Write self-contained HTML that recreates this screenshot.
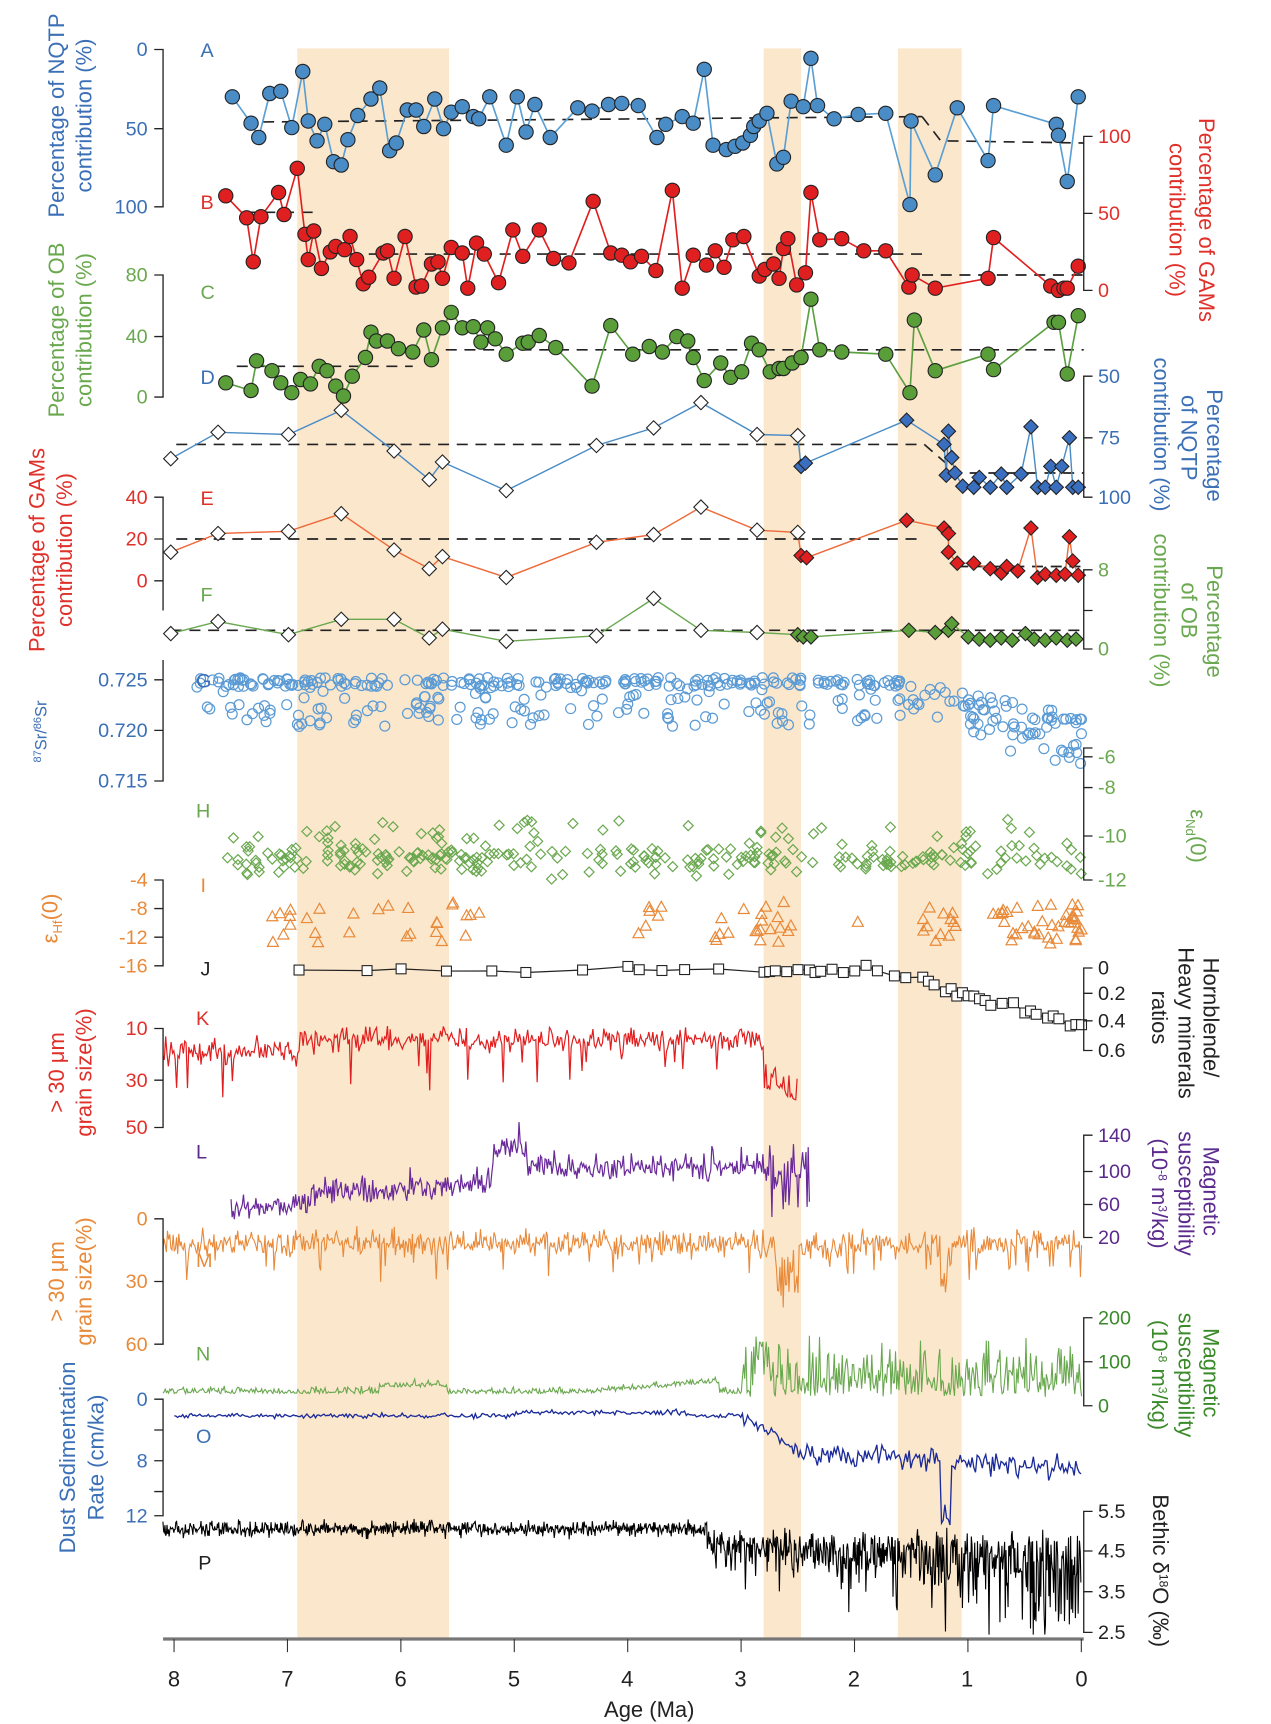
<!DOCTYPE html>
<html><head><meta charset="utf-8"><style>
html,body{margin:0;padding:0;background:#fff}
svg{display:block}
text{font-family:"Liberation Sans",Arial,sans-serif}
</style></head><body>
<svg id="s" width="1271" height="1724" viewBox="0 0 1155 1567.3" xmlns="http://www.w3.org/2000/svg">
<rect x="0" y="0" width="1155" height="1568" fill="#fff"/>
<g fill="#fbe7cc">
<rect x="270" y="44" width="138" height="1446"/>
<rect x="694" y="44" width="34" height="1446"/>
<rect x="816" y="44" width="58" height="1446"/>
</g>
<g id="data"></g>
<g stroke="#222" stroke-width="1.2" fill="none">
<path d="M140,45H148V188H140M148,117H140"/>
<path d="M993,124H985V264H993M985,194H993"/>
<path d="M140,250H148V361H140M148,306H140"/>
<path d="M993,342H985V452H993M985,398H993"/>
<path d="M140,452H148V555M148,490H140M148,528H140"/>
<path d="M993,518H985V590H993M985,555H993"/>
<path d="M148,600V710H140M148,618H140M148,664H140"/>
<path d="M993,680H985V800H993M985,688H993M985,716H993M985,760H993"/>
<path d="M140,800H148V878H140M148,826H140M148,852H140"/>
<path d="M993,880H985V955H993M985,903H993M985,928H993"/>
<path d="M140,935H148V1025H140M148,982H140"/>
<path d="M993,1032H985V1125H993M985,1065H993M985,1095H993"/>
<path d="M140,1108H148V1222H140M148,1165H140"/>
<path d="M993,1198H985V1278H993M985,1238H993"/>
<path d="M140,1272H148V1378H140M148,1300H140M148,1328H140M148,1356H140"/>
<path d="M993,1374H985V1484H993M985,1410H993M985,1447H993"/>
</g>
<path d="M148,1490H985" stroke="#777" stroke-width="3"/>
<g id="xt" stroke="#333" stroke-width="1"></g>
<g font-size="20" text-anchor="middle" fill="#222">
<text x="158" y="1533">8</text><text x="261" y="1533">7</text><text x="364" y="1533">6</text><text x="467" y="1533">5</text><text x="570" y="1533">4</text><text x="673" y="1533">3</text><text x="776" y="1533">2</text><text x="879" y="1533">1</text><text x="983" y="1533">0</text>
<text x="590" y="1561" font-size="20">Age (Ma)</text>
</g>
<g font-size="18" text-anchor="end">
<g fill="#3b6fb6"><text x="134" y="51">0</text><text x="134" y="123">50</text><text x="134" y="194">100</text></g>
<g fill="#6aa84f"><text x="134" y="256">80</text><text x="134" y="312">40</text><text x="134" y="367">0</text></g>
<g fill="#e0302a"><text x="134" y="458">40</text><text x="134" y="496">20</text><text x="134" y="534">0</text></g>
<g fill="#3b6fb6"><text x="134" y="624">0.725</text><text x="134" y="670">0.720</text><text x="134" y="716">0.715</text></g>
<g fill="#e88a3a"><text x="134" y="806">-4</text><text x="134" y="832">-8</text><text x="134" y="858">-12</text><text x="134" y="884">-16</text></g>
<g fill="#e0302a"><text x="134" y="941">10</text><text x="134" y="988">30</text><text x="134" y="1031">50</text></g>
<g fill="#e88a3a"><text x="134" y="1114">0</text><text x="134" y="1171">30</text><text x="134" y="1228">60</text></g>
<g fill="#3b6fb6"><text x="134" y="1278">0</text><text x="134" y="1334">8</text><text x="134" y="1384">12</text></g>
</g>
<g font-size="18" text-anchor="start">
<g fill="#e0302a"><text x="998" y="130">100</text><text x="998" y="200">50</text><text x="998" y="270">0</text></g>
<g fill="#3b6fb6"><text x="998" y="348">50</text><text x="998" y="404">75</text><text x="998" y="458">100</text></g>
<g fill="#6aa84f"><text x="998" y="524">8</text><text x="998" y="596">0</text></g>
<g fill="#6aa84f"><text x="998" y="694">-6</text><text x="998" y="722">-8</text><text x="998" y="766">-10</text><text x="998" y="806">-12</text></g>
<g fill="#222"><text x="998" y="886">0</text><text x="998" y="909">0.2</text><text x="998" y="934">0.4</text><text x="998" y="961">0.6</text></g>
<g fill="#5b2a8c"><text x="998" y="1038">140</text><text x="998" y="1071">100</text><text x="998" y="1101">60</text><text x="998" y="1131">20</text></g>
<g fill="#3a8a2a"><text x="998" y="1204">200</text><text x="998" y="1244">100</text><text x="998" y="1284">0</text></g>
<g fill="#222"><text x="998" y="1380">5.5</text><text x="998" y="1416">4.5</text><text x="998" y="1453">3.5</text><text x="998" y="1490">2.5</text></g>
</g>
<g font-size="18">
<text x="182" y="52" fill="#3b6fb6">A</text><text x="182" y="190" fill="#e0302a">B</text><text x="182" y="272" fill="#6aa84f">C</text>
<text x="182" y="349" fill="#3b6fb6">D</text><text x="182" y="459" fill="#e0302a">E</text><text x="182" y="547" fill="#6aa84f">F</text>
<text x="178" y="625" fill="#3b6fb6">G</text><text x="178" y="743" fill="#6aa84f">H</text><text x="182" y="811" fill="#e88a3a">I</text>
<text x="182" y="887" fill="#222">J</text><text x="178" y="932" fill="#e0302a">K</text><text x="178" y="1053" fill="#5b2a8c">L</text>
<text x="178" y="1152" fill="#e88a3a">M</text><text x="178" y="1237" fill="#6aa84f">N</text><text x="178" y="1312" fill="#3b6fb6">O</text>
<text x="180" y="1427" fill="#222">P</text>
</g>
<g font-size="20" text-anchor="middle">
<text transform="translate(58,105) rotate(-90)" fill="#3b6fb6">Percentage of NQTP</text>
<text transform="translate(83,105) rotate(-90)" fill="#3b6fb6">contribution (%)</text>
<text transform="translate(58,300) rotate(-90)" fill="#6aa84f">Percentage of OB</text>
<text transform="translate(83,300) rotate(-90)" fill="#6aa84f">contribution (%)</text>
<text transform="translate(40,500) rotate(-90)" fill="#e0302a">Percentage of GAMs</text>
<text transform="translate(65,500) rotate(-90)" fill="#e0302a">contribution (%)</text>
<text transform="translate(42,665) rotate(-90)" fill="#3b6fb6" font-size="15"><tspan font-size="10" dy="-5">87</tspan><tspan dy="5">Sr/</tspan><tspan font-size="10" dy="-5">86</tspan><tspan dy="5">Sr</tspan></text>
<text transform="translate(52,835) rotate(-90)" fill="#e88a3a">ε<tspan font-size="12" dy="4">Hf</tspan><tspan dy="-4">(0)</tspan></text>
<text transform="translate(58,975) rotate(-90)" fill="#e0302a">&gt; 30 μm</text>
<text transform="translate(83,975) rotate(-90)" fill="#e0302a">grain size(%)</text>
<text transform="translate(58,1165) rotate(-90)" fill="#e88a3a">&gt; 30 μm</text>
<text transform="translate(83,1165) rotate(-90)" fill="#e88a3a">grain size(%)</text>
<text transform="translate(68,1325) rotate(-90)" fill="#3b6fb6">Dust Sedimentation</text>
<text transform="translate(94,1325) rotate(-90)" fill="#3b6fb6">Rate (cm/ka)</text>
</g>
<g font-size="20" text-anchor="middle">
<text transform="translate(1090,200) rotate(90)" fill="#e0302a">Percentage of GAMs</text>
<text transform="translate(1063,200) rotate(90)" fill="#e0302a">contribution (%)</text>
<text transform="translate(1097,405) rotate(90)" fill="#3b6fb6">Percentage</text>
<text transform="translate(1074,398) rotate(90)" fill="#3b6fb6">of NQTP</text>
<text transform="translate(1049,395) rotate(90)" fill="#3b6fb6">contribution (%)</text>
<text transform="translate(1097,565) rotate(90)" fill="#6aa84f">Percentage</text>
<text transform="translate(1074,555) rotate(90)" fill="#6aa84f">of OB</text>
<text transform="translate(1049,555) rotate(90)" fill="#6aa84f">contribution (%)</text>
<text transform="translate(1082,760) rotate(90)" fill="#6aa84f">ε<tspan font-size="12" dy="4">Nd</tspan><tspan dy="-4">(0)</tspan></text>
<text transform="translate(1094,925) rotate(90)" fill="#222">Hornblende/</text>
<text transform="translate(1071,930) rotate(90)" fill="#222">Heavy minerals</text>
<text transform="translate(1047,925) rotate(90)" fill="#222">ratios</text>
<text transform="translate(1094,1083) rotate(90)" fill="#5b2a8c">Magnetic</text>
<text transform="translate(1071,1085) rotate(90)" fill="#5b2a8c">susceptibility</text>
<text transform="translate(1047,1085) rotate(90)" fill="#5b2a8c">(10<tspan font-size="11" dy="-6">-8</tspan><tspan dy="6"> m</tspan><tspan font-size="11" dy="-6">3</tspan><tspan dy="6">/kg)</tspan></text>
<text transform="translate(1094,1248) rotate(90)" fill="#3a8a2a">Magnetic</text>
<text transform="translate(1071,1250) rotate(90)" fill="#3a8a2a">susceptibility</text>
<text transform="translate(1047,1250) rotate(90)" fill="#3a8a2a">(10<tspan font-size="11" dy="-6">-8</tspan><tspan dy="6"> m</tspan><tspan font-size="11" dy="-6">3</tspan><tspan dy="6">/kg)</tspan></text>
<text transform="translate(1048,1428) rotate(90)" fill="#222">Bethic δ<tspan font-size="11" dy="-6">18</tspan><tspan dy="6">O (‰)</tspan></text>
</g>
</svg>
<script>
(function(){
var NS="http://www.w3.org/2000/svg",D=document.getElementById("data");
function el(t,a){var e=document.createElementNS(NS,t);for(var k in a)e.setAttribute(k,a[k]);D.appendChild(e);return e;}
var xt=document.getElementById("xt");
for(var i=0;i<9;i++){var x=158+103.1*i;var l=document.createElementNS(NS,"line");l.setAttribute("x1",x);l.setAttribute("x2",x);l.setAttribute("y1",1490);l.setAttribute("y2",1502);xt.appendChild(l);}
var seed=7;function r(){seed=(seed*16807)%2147483647;return seed/2147483647;}
function g(){return (r()+r()+r()-1.5)*1.4;}
function X(a){return 983-103.1*a;}
function pts(p){return p.map(function(q){return q[0].toFixed(1)+","+q[1].toFixed(1)}).join(" ");}
function line(p,c,w,dash){el("polyline",{points:pts(p),fill:"none",stroke:c,"stroke-width":w||1.3,"stroke-dasharray":dash||""});}
function dash(p){line(p,"#222",1.5,"10,7");}
function circ(p,f){p.forEach(function(q){el("circle",{cx:q[0],cy:q[1],r:6.5,fill:f,stroke:"#222","stroke-width":1});});}
function diam(p,f,s){p.forEach(function(q){var x=q[0],y=q[1],d=6.5;el("polygon",{points:(x)+","+(y-d)+" "+(x+d)+","+y+" "+x+","+(y+d)+" "+(x-d)+","+y,fill:f,stroke:s||"#222","stroke-width":1});});}
function byx(p){return p.slice().sort(function(a,b){return a[0]-b[0]});}
var A=[[211,88],[228,112],[235,125],[245,85],[255,83],[265,116],[275,65],[280,110],[288,128],[295,113],[303,147],[310,150],[316,127],[325,105],[337,90],[345,80],[354,137],[360,130],[370,100],[378,100],[385,115],[395,90],[403,117],[410,102],[420,97],[430,106],[435,108],[445,88],[460,132],[470,88],[478,120],[486,95],[500,125],[525,98],[538,101],[553,95],[565,94],[580,96],[597,125],[605,113],[620,106],[630,112],[640,63],[648,132],[660,136],[668,133],[675,130],[682,123],[685,115],[690,110],[697,103],[706,149],[712,143],[719,92],[730,97],[737,53],[743,96],[758,108],[780,104],[805,103],[827,186],[828,110],[850,159],[870,98],[898,146],[903,96],[960,113],[962,123],[970,165],[980,88]];
dash([[222,111],[838,106]]);dash([[838,106],[855,128],[985,130]]);
line(A,"#5a9fd4",1.5);circ(A,"#4a8cc6");
var B=[[205,178],[224,198],[230,238],[237,197],[253,175],[258,195],[270,153],[277,213],[280,236],[285,210],[292,244],[300,229],[305,224],[313,227],[318,215],[324,236],[330,258],[335,252],[348,230],[352,228],[358,253],[368,215],[378,261],[383,260],[392,240],[398,238],[402,253],[410,225],[420,230],[425,262],[433,221],[440,231],[453,257],[466,209],[475,233],[490,209],[503,235],[517,239],[539,183],[555,230],[565,232],[573,238],[583,233],[596,246],[611,173],[620,262],[630,232],[642,241],[650,228],[658,243],[666,218],[676,215],[690,251],[695,245],[703,240],[708,253],[712,226],[716,217],[724,259],[732,248],[737,175],[745,218],[765,217],[785,228],[805,228],[826,261],[829,250],[850,262],[898,253],[903,216],[955,260],[962,264],[967,262],[970,262],[980,242]];
dash([[223,193],[288,193]]);dash([[318,231],[838,231]]);dash([[838,250],[985,250]]);
line(B,"#e02020",1.5);circ(B,"#e02020");
var C=[[205,348],[228,355],[233,328],[247,337],[255,348],[265,357],[273,345],[282,349],[290,333],[297,337],[305,351],[312,360],[320,342],[332,325],[337,302],[342,310],[352,310],[362,317],[375,320],[385,300],[392,327],[402,298],[410,284],[420,298],[430,297],[437,311],[443,298],[450,308],[460,322],[475,312],[480,311],[490,305],[505,316],[538,351],[555,296],[575,322],[590,315],[602,320],[615,306],[625,310],[630,325],[640,346],[655,330],[664,343],[674,338],[683,312],[690,318],[700,338],[708,335],[712,335],[720,330],[728,325],[737,272],[745,318],[765,320],[805,322],[827,357],[831,291],[850,337],[898,322],[903,336],[958,293],[962,293],[970,340],[980,287]];
dash([[215,333],[375,333]]);dash([[405,318],[985,318]]);
line(C,"#5aa040",1.5);circ(C,"#5a9e3a");
var Dw=[[155,417],[198,393],[262,395],[310,373],[358,410],[390,436],[402,420],[460,446],[542,405],[594,389],[637,366],[688,395],[725,396]];
var Df=[[728,424],[732,421],[824,382],[858,404],[862,392],[865,416],[860,432],[868,430],[875,442],[885,443],[890,434],[900,443],[910,431],[915,443],[928,431],[937,388],[943,443],[950,443],[955,424],[960,443],[965,424],[972,398],[975,443],[980,443]];
dash([[160,404],[840,404],[870,430],[985,430]]);
line(byx(Dw.concat(Df)),"#4a8cc6",1.3);diam(Dw,"#fff");diam(Df,"#3a6fc0");
var Ew=[[155,502],[198,485],[262,483],[310,467],[358,500],[390,517],[402,506],[460,525],[542,493],[594,486],[637,461],[688,482],[725,484]];
var Ef=[[728,505],[733,507],[824,473],[858,480],[862,485],[862,502],[870,512],[885,512],[900,517],[910,521],[915,515],[925,519],[937,480],[943,525],[950,522],[960,523],[968,522],[972,488],[975,510],[980,523]];
dash([[160,490],[840,490]]);dash([[870,515],[985,515]]);
line(byx(Ew.concat(Ef)),"#ee6a3a",1.3);diam(Ew,"#fff");diam(Ef,"#e02020");
var Fw=[[155,576],[198,565],[262,577],[310,563],[358,563],[390,580],[402,572],[460,583],[542,578],[594,544],[637,573],[688,575]];
var Ff=[[725,577],[730,579],[737,579],[826,573],[850,575],[862,573],[865,567],[880,579],[890,581],[900,582],[910,580],[920,582],[932,576],[940,581],[950,582],[960,580],[970,582],[978,581]];
dash([[155,573],[985,573]]);
line(byx(Fw.concat(Ff)),"#6aa84f",1.3);diam(Fw,"#fff");diam(Ff,"#5a9e3a");
for(var i=0;i<420;i++){var a=r()*7.8;var x=X(a);var base=616+(a<1.6?(1.6-a)*22:0);var y;
 if(a<1.6){y=base+Math.abs(g())*25;}else{var u=r();y=u<0.55?base+r()*8:base+r()*45;}
 if(y>712)y=712-r()*10;el("circle",{cx:x,cy:y,r:4.5,fill:"none",stroke:"#5b9bd5","stroke-width":1.1});}
for(var i=0;i<300;i++){var a=Math.pow(r(),0.8)*7.6;var x=X(a);var y=780+g()*10;if(r()<0.12)y=745+r()*20;var d=4.5;el("polygon",{points:x+","+(y-d)+" "+(x+d)+","+y+" "+x+","+(y+d)+" "+(x-d)+","+y,fill:"none",stroke:"#6aa84f","stroke-width":1.1});}
var ranges=[[7.2,5.9,18],[5.7,5.3,10],[4.0,3.7,6],[3.3,2.5,20],[2.0,1.9,1],[1.45,1.1,12],[0.8,0,40]];
ranges.forEach(function(rg){for(var k=0;k<rg[2];k++){var a=rg[1]+r()*(rg[0]-rg[1]);var x=X(a);var y=820+r()*38;el("polygon",{points:x+","+(y-5)+" "+(x+5)+","+(y+4)+" "+(x-5)+","+(y+4),fill:"none",stroke:"#e88a3a","stroke-width":1.1});}});
var J=[];[6.9,6.3,6.0,5.6,5.2,4.9,4.4,4.0,3.9,3.7,3.5,3.2,2.8,2.75,2.7,2.6,2.5,2.4,2.35,2.3,2.2,2.1,2.0,1.9,1.8,1.65,1.55,1.4,1.35,1.3,1.2,1.15,1.1,1.05,1.0,0.95,0.9,0.85,0.8,0.7,0.6,0.5,0.45,0.4,0.3,0.25,0.2,0.1,0.05,0.0].forEach(function(a){var y=881+(a<1.8?(1.8-a)*30:0)+g()*3;if(a>2.2&&a<3)y+=3;J.push([X(a),y]);});
J=byx(J);line(J,"#222",1.1);J.forEach(function(q){el("rect",{x:q[0]-4.5,y:q[1]-4.5,width:9,height:9,fill:"#fff",stroke:"#222","stroke-width":1});});
var K=[];for(var a=8.1;a>=2.5;a-=0.012){var b=a>6.9?955:945;var y=b+g()*8;if(r()<0.05)y+=r()*40;if(a<2.8)y=980+g()*12+(2.8-a)*40;K.push([X(a),y]);}line(K,"#e02020",1.1);
var L=[];for(var a=7.5;a>=2.4;a-=0.01){var b;if(a>6.8)b=1095;else if(a>5.2)b=1085-(6.8-a)*5;else if(a>4.9)b=1045;else if(a>3.0)b=1062;else b=1060;var y=b+g()*8;if(r()<0.03)y-=r()*25;if(a<2.8)y=1070+g()*25;L.push([X(a),y]);}line(L,"#6a2a9a",1.1);
var M=[];for(var a=8.1;a>=0;a-=0.01){var y=1130+g()*8;if(r()<0.06)y+=r()*30;if(a<3&&r()<0.1)y+=r()*30;if((a<2.7&&a>2.5)||(a<1.25&&a>1.15))y+=r()*45;M.push([X(a),y]);}line(M,"#e88a3a",1);
var N=[];for(var a=8.1;a>=0;a-=0.01){var y;if(a>3.0)y=1267-Math.abs(g())*4-(a<6.2&&a>5.6?6:0)-(a<4.4&&a>3.2?(4.4-a)*8:0);else y=1270-Math.abs(g())*30-(r()<0.08?r()*30:0);if(a<2.9&&a>2.75)y-=20;N.push([X(a),y]);}line(N,"#6aa84f",1);
var O=[];for(var a=8.0;a>=0;a-=0.015){var y;if(a>3)y=1287-(a<5&&a>3.5?3:0)+g()*1.5;else if(a>2.5)y=1288+(3-a)*60+g()*4;else y=1320+g()*7+(2.5-a)*6;if(a<1.25&&a>1.15)y=1360+r()*30;O.push([X(a),y]);}line(O,"#1a2a9a",1.2);
var P=[];for(var a=8.1;a>=0;a-=0.006){var y;if(a>3.3)y=1390+g()*5;else{var sp=15+(3.3-a)*14;y=1395+Math.abs(g())*sp+g()*5;if(r()<0.06)y+=r()*30;if(y>1486)y=1486;}P.push([X(a),y]);}line(P,"#000",1);
})();
</script>
</body></html>
